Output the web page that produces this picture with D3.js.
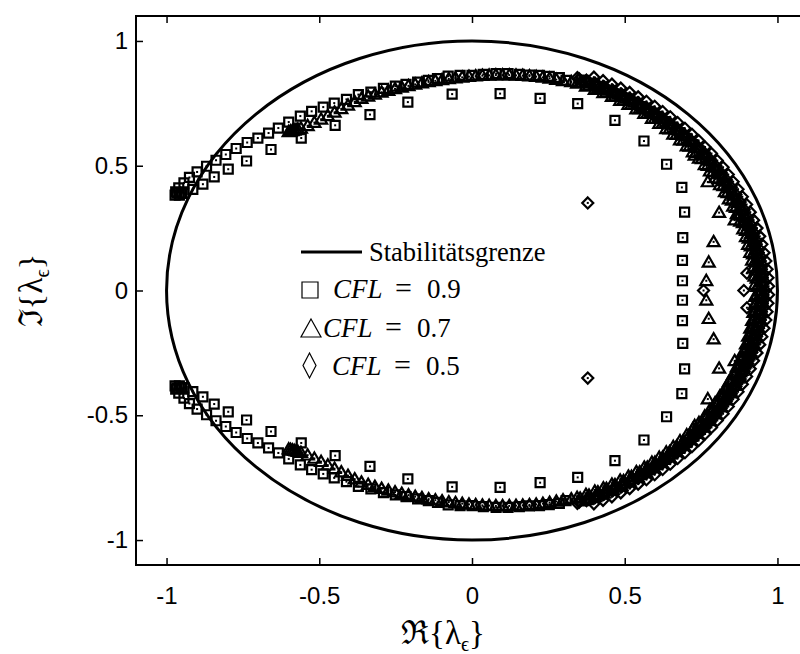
<!DOCTYPE html>
<html>
<head>
<meta charset="utf-8">
<title>Stabilitaetsgebiet</title>
<script src="https://d3js.org/d3.v7.min.js"></script>
<style>
  body { margin: 0; background: #fff; }
  .axis .tick text { font-family: "Liberation Sans", Arial, sans-serif; font-size: 24px; fill: #000; }
  .axis .tick line { stroke: #000; stroke-width: 1.5; }
  .serif { font-family: "Liberation Serif", "Times New Roman", "DejaVu Serif", serif; fill: #000; }
</style>
</head>
<body>
<svg width="800" height="654"></svg>
<script>
// tick values and labels
const xTicks = [-1, -0.5, 0, 0.5, 1];
const yTicks = [-1, -0.5, 0, 0.5, 1];
const tickLabels = ["-1", "-0.5", "0", "0.5", "1"];

// eigenvalues [Re, Im], upper half plane (the lower half are the conjugates)
const cfl09 = [
  [-0.972, 0.382], [-0.965, 0.390], [-0.958, 0.382], [-0.951, 0.390],
  [-0.970, 0.395], [-0.960, 0.411], [-0.943, 0.431], [-0.925, 0.453], [-0.900, 0.475],
  [-0.869, 0.498], [-0.838, 0.522], [-0.806, 0.545], [-0.772, 0.569], [-0.736, 0.593],
  [-0.701, 0.611], [-0.666, 0.631], [-0.634, 0.651], [-0.600, 0.675], [-0.562, 0.699],
  [-0.525, 0.718], [-0.487, 0.735], [-0.451, 0.751], [-0.411, 0.766], [-0.372, 0.785],
  [-0.331, 0.795], [-0.290, 0.810], [-0.251, 0.819], [-0.216, 0.826], [-0.178, 0.835],
  [-0.143, 0.842], [-0.113, 0.849], [-0.078, 0.859], [-0.039, 0.862], [0.000, 0.862],
  [0.037, 0.866], [0.079, 0.869], [0.118, 0.869], [0.155, 0.866], [0.188, 0.863],
  [0.221, 0.862], [0.253, 0.858], [0.286, 0.853], [0.308, 0.842],
  [-0.943, 0.389], [-0.914, 0.405], [-0.881, 0.426], [-0.844, 0.455], [-0.798, 0.486],
  [-0.738, 0.519], [-0.658, 0.565], [-0.559, 0.611], [-0.448, 0.662], [-0.334, 0.705],
  [-0.210, 0.755], [-0.065, 0.787], [0.092, 0.789], [0.223, 0.770], [0.346, 0.749],
  [0.468, 0.682], [0.563, 0.599], [0.637, 0.506], [0.687, 0.413], [0.696, 0.314],
  [0.690, 0.212], [0.689, 0.121], [0.689, 0.039]
];
// dense part close to the stability limit
const cfl09Band = [
  [0.358, 0.843], [0.387, 0.831], [0.417, 0.818], [0.445, 0.803], [0.474, 0.788],
  [0.501, 0.772], [0.529, 0.755], [0.555, 0.737], [0.581, 0.718], [0.607, 0.698],
  [0.631, 0.677], [0.655, 0.655], [0.679, 0.633], [0.701, 0.610], [0.723, 0.585],
  [0.743, 0.560], [0.764, 0.535], [0.783, 0.508], [0.801, 0.481], [0.818, 0.453],
  [0.834, 0.425], [0.849, 0.396], [0.864, 0.367], [0.877, 0.337], [0.889, 0.306],
  [0.900, 0.275], [0.910, 0.244], [0.919, 0.212], [0.927, 0.180], [0.934, 0.148],
  [0.939, 0.115], [0.944, 0.083], [0.947, 0.050], [0.949, 0.017]
];

const cfl07 = [
  [-0.600, 0.636], [-0.594, 0.638], [-0.588, 0.640], [-0.582, 0.642], [-0.576, 0.644], [-0.570, 0.646],
  [-0.560, 0.650], [-0.538, 0.660], [-0.516, 0.673], [-0.494, 0.686], [-0.472, 0.700],
  [-0.450, 0.714], [-0.428, 0.728], [-0.406, 0.742], [-0.384, 0.756], [-0.362, 0.769],
  [-0.340, 0.778], [-0.318, 0.786], [-0.296, 0.794], [-0.274, 0.801], [-0.252, 0.808],
  [-0.230, 0.814], [-0.208, 0.820], [-0.186, 0.826], [-0.164, 0.831], [-0.142, 0.836],
  [-0.120, 0.840], [-0.098, 0.844], [-0.076, 0.848], [-0.054, 0.851], [-0.032, 0.854],
  [-0.010, 0.857], [0.012, 0.859], [0.034, 0.861], [0.056, 0.862], [0.078, 0.863],
  [0.100, 0.863], [0.122, 0.863], [0.144, 0.862], [0.166, 0.861], [0.188, 0.859],
  [0.210, 0.857], [0.232, 0.854], [0.254, 0.850], [0.276, 0.845], [0.298, 0.840], [0.325, 0.836],
  [0.729, 0.542], [0.772, 0.435], [0.809, 0.312], [0.860, 0.282], [0.791, 0.195],
  [0.775, 0.113], [0.767, 0.039]
];
const cfl07Band = [
  [0.354, 0.833], [0.383, 0.821], [0.412, 0.808], [0.440, 0.794], [0.468, 0.779],
  [0.496, 0.763], [0.522, 0.746], [0.549, 0.728], [0.574, 0.709], [0.599, 0.689],
  [0.624, 0.669], [0.647, 0.647], [0.670, 0.625], [0.692, 0.602], [0.713, 0.578],
  [0.734, 0.553], [0.753, 0.528], [0.772, 0.501], [0.790, 0.475], [0.807, 0.447],
  [0.823, 0.419], [0.837, 0.391], [0.851, 0.361], [0.864, 0.332], [0.876, 0.302],
  [0.887, 0.271], [0.897, 0.240], [0.906, 0.209], [0.913, 0.178], [0.920, 0.146],
  [0.925, 0.114], [0.929, 0.081], [0.932, 0.049], [0.934, 0.016],
  [0.374, 0.839], [0.403, 0.827], [0.432, 0.813], [0.461, 0.798], [0.489, 0.782],
  [0.516, 0.765], [0.543, 0.748], [0.570, 0.729], [0.595, 0.709], [0.620, 0.689],
  [0.645, 0.667], [0.668, 0.645], [0.691, 0.622], [0.713, 0.598], [0.734, 0.573],
  [0.754, 0.548], [0.774, 0.522], [0.792, 0.495], [0.810, 0.467], [0.826, 0.439],
  [0.842, 0.411], [0.856, 0.381], [0.870, 0.352], [0.883, 0.321], [0.894, 0.291],
  [0.905, 0.259], [0.914, 0.228], [0.922, 0.196], [0.929, 0.164], [0.935, 0.132],
  [0.940, 0.099], [0.944, 0.066], [0.947, 0.033], [0.948, 0.000],
  [0.344, 0.830], [0.373, 0.818], [0.402, 0.805], [0.430, 0.792], [0.458, 0.777],
  [0.485, 0.761], [0.512, 0.745], [0.538, 0.727], [0.564, 0.709], [0.589, 0.689],
  [0.613, 0.669], [0.636, 0.648], [0.659, 0.626], [0.681, 0.603], [0.703, 0.579],
  [0.723, 0.555], [0.743, 0.530], [0.762, 0.504], [0.779, 0.478], [0.796, 0.451],
  [0.812, 0.423], [0.828, 0.395], [0.841, 0.366], [0.855, 0.337], [0.867, 0.307],
  [0.878, 0.277], [0.888, 0.246], [0.897, 0.215], [0.904, 0.184], [0.911, 0.152],
  [0.917, 0.121], [0.921, 0.089], [0.925, 0.057], [0.927, 0.024]
];

const cfl05 = [
  [0.379, 0.351], [0.900, 0.069], [0.890, 0.000], [0.758, 0.000]
];
const cfl05Band = [
  [0.345, 0.853], [0.375, 0.842], [0.404, 0.829], [0.434, 0.815], [0.462, 0.801],
  [0.491, 0.785], [0.518, 0.769], [0.546, 0.751], [0.572, 0.732], [0.598, 0.713],
  [0.624, 0.692], [0.648, 0.671], [0.672, 0.649], [0.695, 0.626], [0.717, 0.602],
  [0.739, 0.577], [0.760, 0.552], [0.779, 0.526], [0.798, 0.499], [0.816, 0.471],
  [0.833, 0.443], [0.849, 0.414], [0.864, 0.385], [0.878, 0.355], [0.891, 0.324],
  [0.903, 0.293], [0.914, 0.262], [0.924, 0.230], [0.932, 0.198], [0.940, 0.166],
  [0.946, 0.133], [0.951, 0.100], [0.955, 0.067], [0.958, 0.034], [0.960, 0.000],
  [0.399, 0.855], [0.429, 0.841], [0.458, 0.827], [0.487, 0.811],
  [0.516, 0.794], [0.544, 0.776], [0.571, 0.758], [0.598, 0.738], [0.624, 0.717],
  [0.649, 0.696], [0.673, 0.673], [0.697, 0.650], [0.720, 0.626], [0.742, 0.601],
  [0.763, 0.575], [0.784, 0.549], [0.803, 0.521], [0.822, 0.494], [0.839, 0.465],
  [0.855, 0.436], [0.871, 0.406], [0.885, 0.376], [0.899, 0.345], [0.911, 0.314],
  [0.922, 0.282], [0.933, 0.250], [0.942, 0.217], [0.949, 0.185], [0.956, 0.151],
  [0.962, 0.118], [0.966, 0.085], [0.969, 0.051], [0.971, 0.017],
  [0.351, 0.848], [0.381, 0.837], [0.411, 0.824], [0.440, 0.810], [0.468, 0.795],
  [0.496, 0.779], [0.524, 0.762], [0.550, 0.744], [0.577, 0.725], [0.602, 0.705],
  [0.627, 0.684], [0.651, 0.663], [0.675, 0.640], [0.698, 0.617], [0.719, 0.593],
  [0.740, 0.568], [0.761, 0.543], [0.780, 0.516], [0.798, 0.489], [0.816, 0.462],
  [0.832, 0.433], [0.848, 0.404], [0.862, 0.375], [0.876, 0.345], [0.888, 0.315],
  [0.900, 0.284], [0.910, 0.252], [0.919, 0.221], [0.927, 0.189], [0.934, 0.156],
  [0.940, 0.124], [0.945, 0.091], [0.949, 0.058], [0.951, 0.025]
];

const legendLabels = ["Stabilitätsgrenze", "0.9", "0.7", "0.5"];

function withConjugates(d) {
  return d.concat(d.filter(p => p[1] !== 0).map(p => [p[0], -p[1]]));
}

const shapes = {
  square: "M-4.5,-4.5H4.5V4.5H-4.5Z",
  triangle: "M0,-6L6,4.3L-6,4.3Z",
  diamond: "M0,-5.5L5.5,0L0,5.5L-5.5,0Z"
};

function drawSeries(g, data, shape, x, y) {
  const pt = g.append("g").selectAll("g")
    .data(withConjugates(data))
    .join("g")
      .attr("transform", d => `translate(${x(d[0])},${y(d[1])})`);
  pt.append("path")
      .attr("d", shapes[shape])
      .attr("fill", "none")
      .attr("stroke", "#000")
      .attr("stroke-width", 2.2);
  pt.append("rect")
      .attr("x", -1).attr("y", -1)
      .attr("width", 2).attr("height", 2)
      .attr("fill", "#000");
}

function main() {
  const svg = d3.select("svg");
  const x = d3.scaleLinear().domain([-1.1, 1.1]).range([136, 808]);
  const y = d3.scaleLinear().domain([-1.1, 1.1]).range([565, 16]);

  // stability limit |lambda| = 1
  svg.append("ellipse")
      .attr("cx", x(0)).attr("cy", y(0))
      .attr("rx", x(1) - x(0)).attr("ry", y(0) - y(1))
      .attr("fill", "none")
      .attr("stroke", "#000")
      .attr("stroke-width", 3);

  drawSeries(svg, cfl09.concat(cfl09Band), "square", x, y);
  drawSeries(svg, cfl07.concat(cfl07Band), "triangle", x, y);
  drawSeries(svg, cfl05.concat(cfl05Band), "diamond", x, y);

  // axes, ticks pointing inwards
  svg.append("g").attr("class", "axis")
      .attr("transform", `translate(0,${y(-1.1)})`)
      .call(d3.axisBottom(x).tickValues(xTicks).tickFormat((d, i) => tickLabels[i])
        .tickSizeInner(-7).tickSizeOuter(0).tickPadding(22));
  svg.append("g").attr("class", "axis")
      .attr("transform", `translate(0,${y(1.1)})`)
      .call(d3.axisTop(x).tickValues(xTicks).tickFormat("").tickSizeInner(-7).tickSizeOuter(0));
  svg.append("g").attr("class", "axis")
      .attr("transform", `translate(${x(-1.1)},0)`)
      .call(d3.axisLeft(y).tickValues(yTicks).tickFormat((d, i) => tickLabels[i])
        .tickSizeInner(-7).tickSizeOuter(0).tickPadding(8));
  svg.append("g").attr("class", "axis")
      .attr("transform", `translate(${x(1.1)},0)`)
      .call(d3.axisRight(y).tickValues(yTicks).tickFormat("").tickSizeInner(-7).tickSizeOuter(0));
  svg.selectAll(".axis .domain").remove();

  svg.append("rect")
      .attr("x", x(-1.1)).attr("y", y(1.1))
      .attr("width", x(1.1) - x(-1.1)).attr("height", y(-1.1) - y(1.1))
      .attr("fill", "none")
      .attr("stroke", "#000")
      .attr("stroke-width", 2);

  // axis titles
  const xt = svg.append("text").attr("class", "serif")
      .attr("x", 443).attr("y", 644)
      .attr("text-anchor", "middle")
      .attr("font-size", 33);
  xt.append("tspan").text("ℜ{λ");
  xt.append("tspan").attr("font-size", 20).attr("dy", 7).text("ϵ");
  xt.append("tspan").attr("dy", -7).text("}");

  const yt = svg.append("text").attr("class", "serif")
      .attr("transform", `translate(42,${y(0)}) rotate(-90)`)
      .attr("text-anchor", "middle")
      .attr("font-size", 33);
  yt.append("tspan").text("ℑ{λ");
  yt.append("tspan").attr("font-size", 20).attr("dy", 7).text("ϵ");
  yt.append("tspan").attr("dy", -7).text("}");

  // legend
  const lg = svg.append("g");
  lg.append("line")
      .attr("x1", 301).attr("x2", 362)
      .attr("y1", 252).attr("y2", 252)
      .attr("stroke", "#000").attr("stroke-width", 3);
  lg.append("text").attr("class", "serif")
      .attr("x", 369).attr("y", 261)
      .attr("font-size", 26.5)
      .text(legendLabels[0]);

  const rows = [
    { sym: "M302,282H318V298H302Z", cx: 333, base: 298, label: legendLabels[1] },
    { sym: "M311,319L321,337L301,337Z", cx: 323, base: 337, label: legendLabels[2] },
    { sym: "M309.5,353L316,365.5L309.5,378L303,365.5Z", cx: 332, base: 375, label: legendLabels[3] }
  ];
  rows.forEach(r => {
    lg.append("path").attr("d", r.sym)
        .attr("fill", "none").attr("stroke", "#000").attr("stroke-width", 1.2);
    lg.append("text").attr("class", "serif")
        .attr("x", r.cx).attr("y", r.base)
        .attr("font-size", 27).attr("font-style", "italic")
        .text("CFL");
    lg.append("text").attr("class", "serif")
        .attr("x", r.cx + 62).attr("y", r.base)
        .attr("font-size", 30)
        .text("=");
    lg.append("text").attr("class", "serif")
        .attr("x", r.cx + 94).attr("y", r.base)
        .attr("font-size", 27)
        .text(r.label);
  });
}
main();
</script>
</body>
</html>
